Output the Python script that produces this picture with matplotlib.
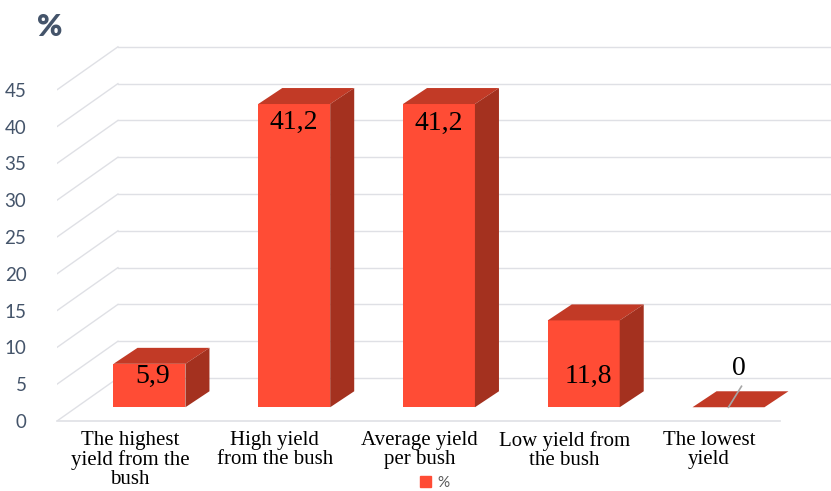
import matplotlib.pyplot as plt
from matplotlib.patches import Polygon, Patch

categories = [
    "The highest\nyield from the\nbush",
    "High yield\nfrom the bush",
    "Average yield\nper bush",
    "Low yield from\nthe bush",
    "The lowest\nyield",
]
values = [5.9, 41.2, 41.2, 11.8, 0.0]
value_labels = ["5,9", "41,2", "41,2", "11,8", "0"]
y_ticks = [0, 5, 10, 15, 20, 25, 30, 35, 40, 45]

# colours of the 3d faces
front_col = "#FF4C35"
top_col = "#C23A26"
side_col = "#A4311F"
grid_col = "#DFE0E5"
text_col = "#44546A"

# pseudo-3d geometry (in data units: categories along x, percent along y)
wall_dx, wall_dy = 0.421, 5.84   # depth of floor / side wall
depth_pos = 0.32                  # where bars sit inside the depth
bar_w = 0.497
bar_dx, bar_dy = 0.166, 2.17      # depth of each bar
x_lo, x_hi = -0.504, 4.843
y_lo, y_hi = 0.0, 57.2

fig = plt.figure(figsize=(8.31, 4.91), dpi=100)
ax = fig.add_axes([57 / 831, 70 / 491, 774 / 831, 421 / 491])
ax.set_xlim(x_lo, x_hi)
ax.set_ylim(y_lo, y_hi)
for s in ax.spines.values():
    s.set_visible(False)

# back wall and left wall gridlines
for t in y_ticks:
    ax.plot([x_lo + wall_dx, x_hi], [t + wall_dy, t + wall_dy], color=grid_col, lw=1, zorder=1)
    ax.plot([x_lo, x_lo + wall_dx], [t, t + wall_dy], color=grid_col, lw=1, zorder=1)
# floor front edge
ax.plot([x_lo, 4.49], [0, 0], color=grid_col, lw=1.2, zorder=1, clip_on=False)

ox, oy = depth_pos * wall_dx, depth_pos * wall_dy
xs = [i + ox for i in range(len(values))]

ax.bar(xs, values, width=bar_w, bottom=oy, color=front_col, zorder=3)
for x, v in zip(xs, values):
    l, r = x - bar_w / 2, x + bar_w / 2
    top = Polygon([(l, oy + v), (r, oy + v), (r + bar_dx, oy + v + bar_dy), (l + bar_dx, oy + v + bar_dy)],
                  closed=True, facecolor=top_col, edgecolor="none", zorder=3)
    side = Polygon([(r, oy), (r, oy + v), (r + bar_dx, oy + v + bar_dy), (r + bar_dx, oy + bar_dy)],
                   closed=True, facecolor=side_col, edgecolor="none", zorder=3)
    ax.add_patch(top)
    ax.add_patch(side)

# data labels (screen height in percent units, small x shifts)
label_y = [6.1, 40.6, 40.4, 6.0, 7.2]
label_dx = [0.02, 0.0, 0.0, 0.035, 0.07]
for x, ly, dx, txt in zip(xs, label_y, label_dx, value_labels):
    ax.text(x + dx, ly, txt, ha="center", va="center", fontsize=20,
            family="Liberation Serif", color="black", zorder=5)
# leader line for the zero bar
ax.plot([xs[4], xs[4] + 0.09], [oy, oy + 2.85], color="#A6A6A6", lw=1.2, zorder=4)

ax.set_yticks(y_ticks)
ax.set_yticklabels([str(t) for t in y_ticks], family="Lato", fontsize=13.5, color=text_col)
ax.set_xticks(range(len(categories)))
ax.set_xticklabels(categories, family="Liberation Serif", fontsize=15, color="black",
                   linespacing=1.0, va="top")
ax.tick_params(axis="y", length=0, pad=22)
ax.tick_params(axis="x", length=0, pad=7)

fig.text(50 / 831, 1 - 27 / 491, "%", ha="center", va="center", fontsize=22,
         fontweight="heavy", family="Lato", color=text_col)

fig.legend(handles=[Patch(color=front_col)], labels=["%"], loc="center",
           bbox_to_anchor=(0.523, 0.017), frameon=False, handlelength=0.7,
           handleheight=0.7, handletextpad=0.4, prop={"family": "Lato", "size": 11},
           labelcolor="#595959")

fig.savefig("out.png", dpi=100)
